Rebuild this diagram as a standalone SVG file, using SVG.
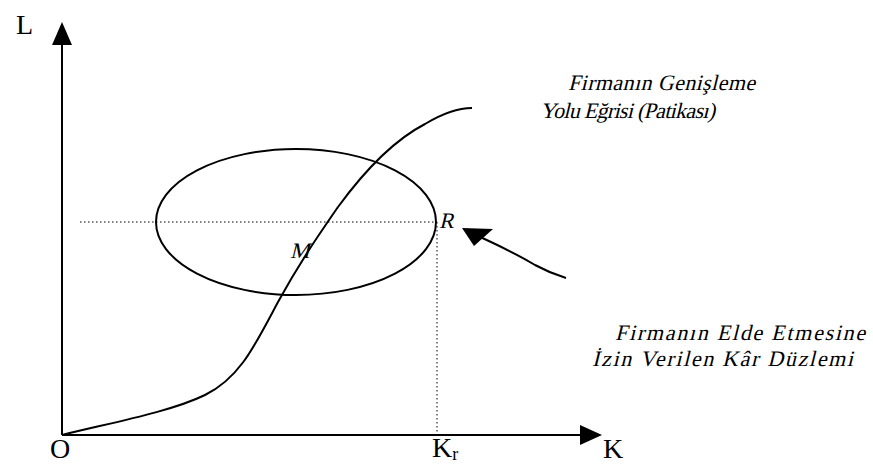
<svg xmlns="http://www.w3.org/2000/svg" width="873" height="466" viewBox="0 0 873 466">
<style>
.ax{stroke:#000;stroke-width:2;fill:none}
.dot{stroke:#000;stroke-width:1;stroke-dasharray:1.5 2.5;fill:none}
.ln{stroke:#000;stroke-width:2;fill:none}
.lab{font-family:"Liberation Serif","Times New Roman",serif;font-size:28px;fill:#000}
.it{font-family:"Liberation Serif","Times New Roman",serif;font-size:22px;fill:#000}
.pt{font-family:"Liberation Serif","Times New Roman",serif;font-size:22px;fill:#000}
</style>
<rect width="873" height="466" fill="#fff"/>
<g id="axes">
<line class="ax" x1="62" y1="435" x2="62" y2="42"/>
<polygon points="62,22 52,45 72,45" fill="#000"/>
<line class="ax" x1="62" y1="435" x2="582" y2="435"/>
<polygon points="602,435 580,425 580,445" fill="#000"/>
<text class="lab" x="16" y="34">L</text>
<text class="lab" x="50" y="458">O</text>
<text class="lab" x="603" y="458">K</text>
<text class="lab" x="432" y="457">K<tspan font-size="18" dy="3">r</tspan></text>
</g>
<g id="guides">
<line class="dot" x1="80" y1="222" x2="436" y2="222"/>
<line class="dot" x1="437" y1="222" x2="437" y2="433"/>
</g>
<g id="ellipse">
<ellipse cx="296" cy="222" rx="140" ry="73" class="ln"/>
</g>
<g id="curve">
<path class="ln" d="M62,435 C110,423 170,412 205,395 C240,378 255,345 278,302 C300,262 318,236 338,207 C368,166 398,138 425,124 C445,112 460,108 472,108"/>
</g>
<g id="points">
<text class="pt" transform="translate(290,258) skewX(-14)">M</text>
<text class="pt" transform="translate(439,228) skewX(-14)">R</text>
</g>
<g id="connectors">
<path class="ln" d="M478,236 C500,246 520,256 535,265 C548,272 556,275 566,278"/>
<polygon points="462,228 493,229 474,246" fill="#000"/>
</g>
<g id="label-expansion">
<text class="it" transform="translate(568,90) skewX(-14)" textLength="187" lengthAdjust="spacing">Firmanın Genişleme</text>
<text class="it" transform="translate(540,118) skewX(-14)" textLength="175" lengthAdjust="spacing">Yolu Eğrisi (Patikası)</text>
</g>
<g id="label-profit">
<text class="it" transform="translate(615,340) skewX(-14)" textLength="250" lengthAdjust="spacing">Firmanın Elde Etmesine</text>
<text class="it" transform="translate(592,366) skewX(-14)" textLength="261" lengthAdjust="spacing">İzin Verilen Kâr Düzlemi</text>
</g>
</svg>
